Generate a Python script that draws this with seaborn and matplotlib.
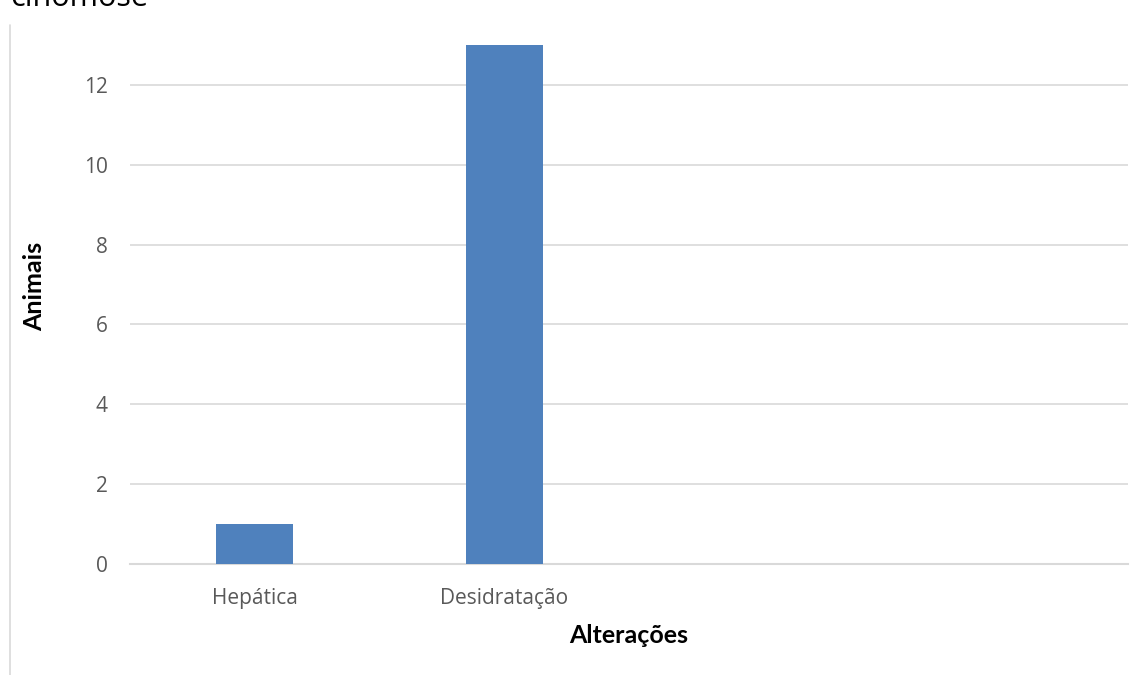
import matplotlib
matplotlib.use("Agg")
import matplotlib.pyplot as plt
import seaborn as sns
import pandas as pd
from matplotlib.lines import Line2D

# Data
categorias = ["Hepática", "Desidratação", " ", "  "]
animais = [1, 13, 0, 0]
y_ticks = [0, 2, 4, 6, 8, 10, 12]

sns.set_theme(style="white")
plt.rcParams["font.family"] = ["Open Sans", "DejaVu Sans"]

df = pd.DataFrame({"Alterações": categorias, "Animais": animais})

fig = plt.figure(figsize=(11.48, 6.75), dpi=100)
ax = fig.add_axes([130 / 1148, 1 - 564 / 675, 998 / 1148, (564 - 45) / 675])

sns.barplot(data=df, x="Alterações", y="Animais", order=categorias,
            color="#4f81bd", saturation=1, width=0.31, ax=ax,
            edgecolor="none", zorder=3)

ax.set_xlim(-0.5, len(categorias) - 0.5)
ax.set_ylim(0, 13)
ax.set_yticks(y_ticks)
ax.grid(axis="y", color="#d9d9d9", linewidth=1.2, zorder=0)
ax.grid(axis="x", visible=False)
for side in ["top", "right", "left"]:
    ax.spines[side].set_visible(False)
ax.spines["bottom"].set_color("#d9d9d9")
ax.spines["bottom"].set_linewidth(1.5)

ax.tick_params(axis="both", length=0, labelsize=15, colors="#595959")
ax.tick_params(axis="y", pad=16)
ax.tick_params(axis="x", pad=17)

ax.set_xlabel("Alterações", fontsize=18, fontweight="bold", color="black",
              family=["Lato", "DejaVu Sans"])
ax.set_ylabel("Animais", fontsize=18, fontweight="bold", color="black",
              family=["Lato", "DejaVu Sans"])
ax.xaxis.set_label_coords(0.5, -0.115)
ax.yaxis.set_label_coords(-0.084, 0.535)

# chart frame edge on the left and the clipped caption above it
fig.add_artist(Line2D([10 / 1148, 10 / 1148], [0, 1 - 25 / 675],
                      color="#d9d9d9", linewidth=1.2))
fig.text(10 / 1148, 1 - 6 / 675, "cinomose", fontsize=22, color="black",
         ha="left", va="baseline", family=["Open Sans", "DejaVu Sans"])

fig.savefig("out.png", dpi=100)
